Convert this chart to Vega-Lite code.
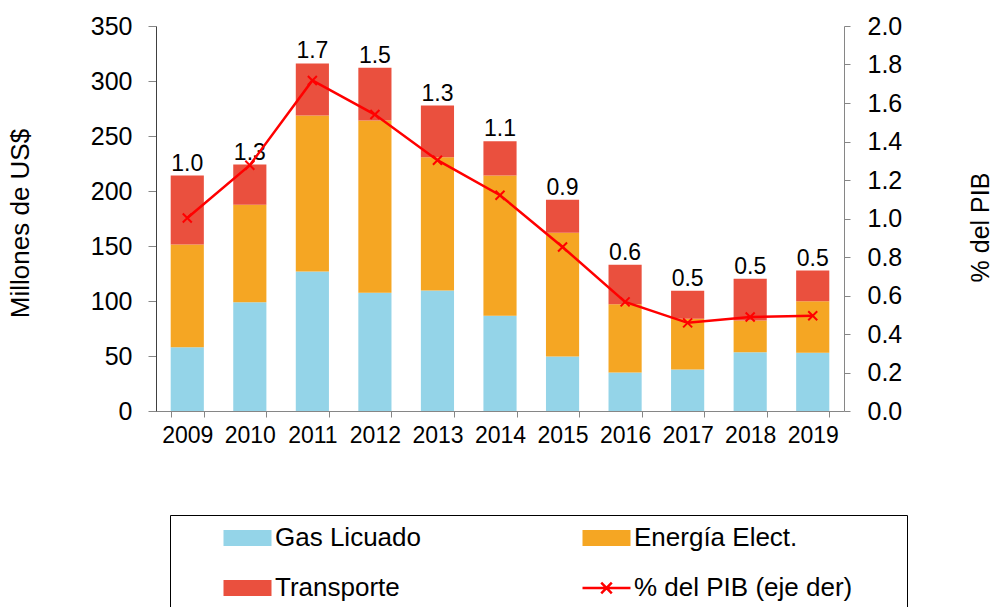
{
  "$schema": "https://vega.github.io/schema/vega-lite/v6.json",
  "autosize": "none",
  "width": 688,
  "height": 385,
  "padding": {"left": 156, "top": 26, "right": 153, "bottom": 196},
  "background": "white",
  "datasets": {
    "barras": [
      {"year": "2009", "serie": "Gas Licuado", "value": 57.9},
      {"year": "2009", "serie": "Energía Elect.", "value": 93.5},
      {"year": "2009", "serie": "Transporte", "value": 62.6},
      {"year": "2010", "serie": "Gas Licuado", "value": 98.9},
      {"year": "2010", "serie": "Energía Elect.", "value": 88.7},
      {"year": "2010", "serie": "Transporte", "value": 36.4},
      {"year": "2011", "serie": "Gas Licuado", "value": 126.8},
      {"year": "2011", "serie": "Energía Elect.", "value": 141.8},
      {"year": "2011", "serie": "Transporte", "value": 47.4},
      {"year": "2012", "serie": "Gas Licuado", "value": 107.5},
      {"year": "2012", "serie": "Energía Elect.", "value": 156.6},
      {"year": "2012", "serie": "Transporte", "value": 47.9},
      {"year": "2013", "serie": "Gas Licuado", "value": 109.5},
      {"year": "2013", "serie": "Energía Elect.", "value": 121.2},
      {"year": "2013", "serie": "Transporte", "value": 47.0},
      {"year": "2014", "serie": "Gas Licuado", "value": 86.5},
      {"year": "2014", "serie": "Energía Elect.", "value": 127.6},
      {"year": "2014", "serie": "Transporte", "value": 31.2},
      {"year": "2015", "serie": "Gas Licuado", "value": 49.5},
      {"year": "2015", "serie": "Energía Elect.", "value": 112.5},
      {"year": "2015", "serie": "Transporte", "value": 30.0},
      {"year": "2016", "serie": "Gas Licuado", "value": 35.0},
      {"year": "2016", "serie": "Energía Elect.", "value": 62.1},
      {"year": "2016", "serie": "Transporte", "value": 35.8},
      {"year": "2017", "serie": "Gas Licuado", "value": 37.7},
      {"year": "2017", "serie": "Energía Elect.", "value": 46.1},
      {"year": "2017", "serie": "Transporte", "value": 25.5},
      {"year": "2018", "serie": "Gas Licuado", "value": 53.5},
      {"year": "2018", "serie": "Energía Elect.", "value": 28.8},
      {"year": "2018", "serie": "Transporte", "value": 37.9},
      {"year": "2019", "serie": "Gas Licuado", "value": 52.9},
      {"year": "2019", "serie": "Energía Elect.", "value": 46.9},
      {"year": "2019", "serie": "Transporte", "value": 27.9}
    ],
    "orden": [
      {"serie": "Gas Licuado", "rank": 1},
      {"serie": "Energía Elect.", "rank": 2},
      {"serie": "Transporte", "rank": 3}
    ],
    "pib": [
      {"year": "2009", "pct": 1.003},
      {"year": "2010", "pct": 1.277},
      {"year": "2011", "pct": 1.717},
      {"year": "2012", "pct": 1.540},
      {"year": "2013", "pct": 1.303},
      {"year": "2014", "pct": 1.121},
      {"year": "2015", "pct": 0.852},
      {"year": "2016", "pct": 0.567},
      {"year": "2017", "pct": 0.458},
      {"year": "2018", "pct": 0.488},
      {"year": "2019", "pct": 0.495}
    ]
  },
  "config": {
    "view": {"stroke": null},
    "font": "Liberation Sans",
    "axis": {
      "grid": false,
      "labelFont": "Liberation Sans",
      "labelFontSize": 23,
      "labelColor": "#000000",
      "labelOverlap": false,
      "titleFont": "Liberation Sans",
      "titleFontSize": 25,
      "titleFontWeight": "normal",
      "titleColor": "#000000",
      "tickColor": "#868686",
      "domainColor": "#868686"
    },
    "legend": {
      "labelFont": "Liberation Sans",
      "labelFontSize": 26,
      "labelColor": "#000000"
    }
  },
  "resolve": {"scale": {"y": "independent"}},
  "layer": [
    {
      "data": {"name": "barras"},
      "layer": [
        {
          "transform": [
            {"lookup": "serie", "from": {"data": {"name": "orden"}, "key": "serie", "fields": ["rank"]}}
          ],
          "mark": {"type": "bar"},
          "encoding": {
            "x": {
              "field": "year", "type": "ordinal", "title": null,
              "scale": {"paddingInner": 0.47, "paddingOuter": 0.235},
              "axis": {"labelAngle": 0, "tickBand": "extent", "tickSize": 6, "labelPadding": 7, "domainColor": "#868686"}
            },
            "y": {
              "field": "value", "type": "quantitative", "aggregate": "sum",
              "title": "Millones de US$",
              "scale": {"domain": [0, 350], "nice": false},
              "axis": {
                "values": [0, 50, 100, 150, 200, 250, 300, 350],
                "labelFontSize": 25,
                "titleFontSize": 26,
                "tickSize": 8, "labelPadding": 16, "domainColor": "#404040",
                "titleAngle": -90, "titleBaseline": "middle", "titleX": -136, "titleY": 197
              }
            },
            "color": {
              "field": "serie", "type": "nominal",
              "scale": {
                "domain": ["Gas Licuado", "Energía Elect.", "Transporte", "% del PIB (eje der)"],
                "range": ["#94D4E8", "#F5A623", "#EA503E", "#FF0000"]
              },
              "legend": {
                "title": "\u00a0",
                "titleOrient": "right",
                "titleFontSize": 12,
                "titlePadding": 45,
                "orient": "none",
                "direction": "horizontal",
                "legendX": 14,
                "legendY": 489,
                "columns": 2,
                "columnPadding": 118,
                "rowPadding": 24,
                "padding": 10,
                "strokeColor": "#000000",
                "symbolOffset": 42,
                "labelOffset": 2,
                "labelLimit": 400,
                "symbolSize": 2304,
                "clipHeight": 26,
                "encode": {
                  "symbols": {
                    "update": {
                      "shape": {"signal": "datum.value === '% del PIB (eje der)' ? 'M-1,0H1M-0.22,-0.22L0.22,0.22M-0.22,0.22L0.22,-0.22' : 'M-1,-0.33H1V0.33H-1Z'"},
                      "fill": {"signal": "datum.value === '% del PIB (eje der)' ? 'transparent' : scale('color', datum.value)"},
                      "stroke": {"signal": "datum.value === '% del PIB (eje der)' ? '#FF0000' : 'transparent'"},
                      "strokeWidth": {"value": 2.5},
                      "opacity": {"value": 1}
                    }
                  }
                }
              }
            },
            "order": {"field": "rank", "type": "quantitative", "sort": "ascending"}
          }
        },
        {
          "transform": [
            {"aggregate": [{"op": "sum", "field": "value", "as": "total"}], "groupby": ["year"]},
            {"lookup": "year", "from": {"data": {"name": "pib"}, "key": "year", "fields": ["pct"]}}
          ],
          "mark": {"type": "text", "font": "Liberation Sans", "fontSize": 23, "color": "#000000", "baseline": "alphabetic", "dy": -5},
          "encoding": {
            "x": {"field": "year", "type": "ordinal"},
            "y": {"field": "total", "type": "quantitative", "title": "Millones de US$"},
            "text": {"field": "pct", "type": "quantitative", "format": ".1f"}
          }
        }
      ]
    },
    {
      "data": {"name": "pib"},
      "layer": [
        {
          "mark": {"type": "line", "color": "#FF0000", "strokeWidth": 2.5},
          "encoding": {
            "x": {"field": "year", "type": "ordinal"},
            "y": {
              "field": "pct", "type": "quantitative", "title": "% del PIB",
              "scale": {"domain": [0, 2], "nice": false},
              "axis": {
                "orient": "right",
                "values": [0, 0.2, 0.4, 0.6, 0.8, 1.0, 1.2, 1.4, 1.6, 1.8, 2.0],
                "format": ".1f",
                "labelFontSize": 25,
                "labelOverlap": false,
                "tickSize": 6, "labelPadding": 17,
                "titleAngle": -90, "titleBaseline": "middle", "titleX": 136, "titleY": 201
              }
            }
          }
        },
        {
          "mark": {"type": "point", "shape": "M-1,-1L1,1M-1,1L1,-1", "size": 81, "filled": false, "stroke": "#FF0000", "strokeWidth": 2, "opacity": 1},
          "encoding": {
            "x": {"field": "year", "type": "ordinal"},
            "y": {
              "field": "pct", "type": "quantitative", "title": "% del PIB",
              "axis": {
                "orient": "right",
                "values": [0, 0.2, 0.4, 0.6, 0.8, 1.0, 1.2, 1.4, 1.6, 1.8, 2.0],
                "format": ".1f",
                "labelFontSize": 25,
                "labelOverlap": false,
                "tickSize": 6, "labelPadding": 17,
                "titleAngle": -90, "titleBaseline": "middle", "titleX": 136, "titleY": 201
              }
            }
          }
        }
      ]
    }
  ]
}
